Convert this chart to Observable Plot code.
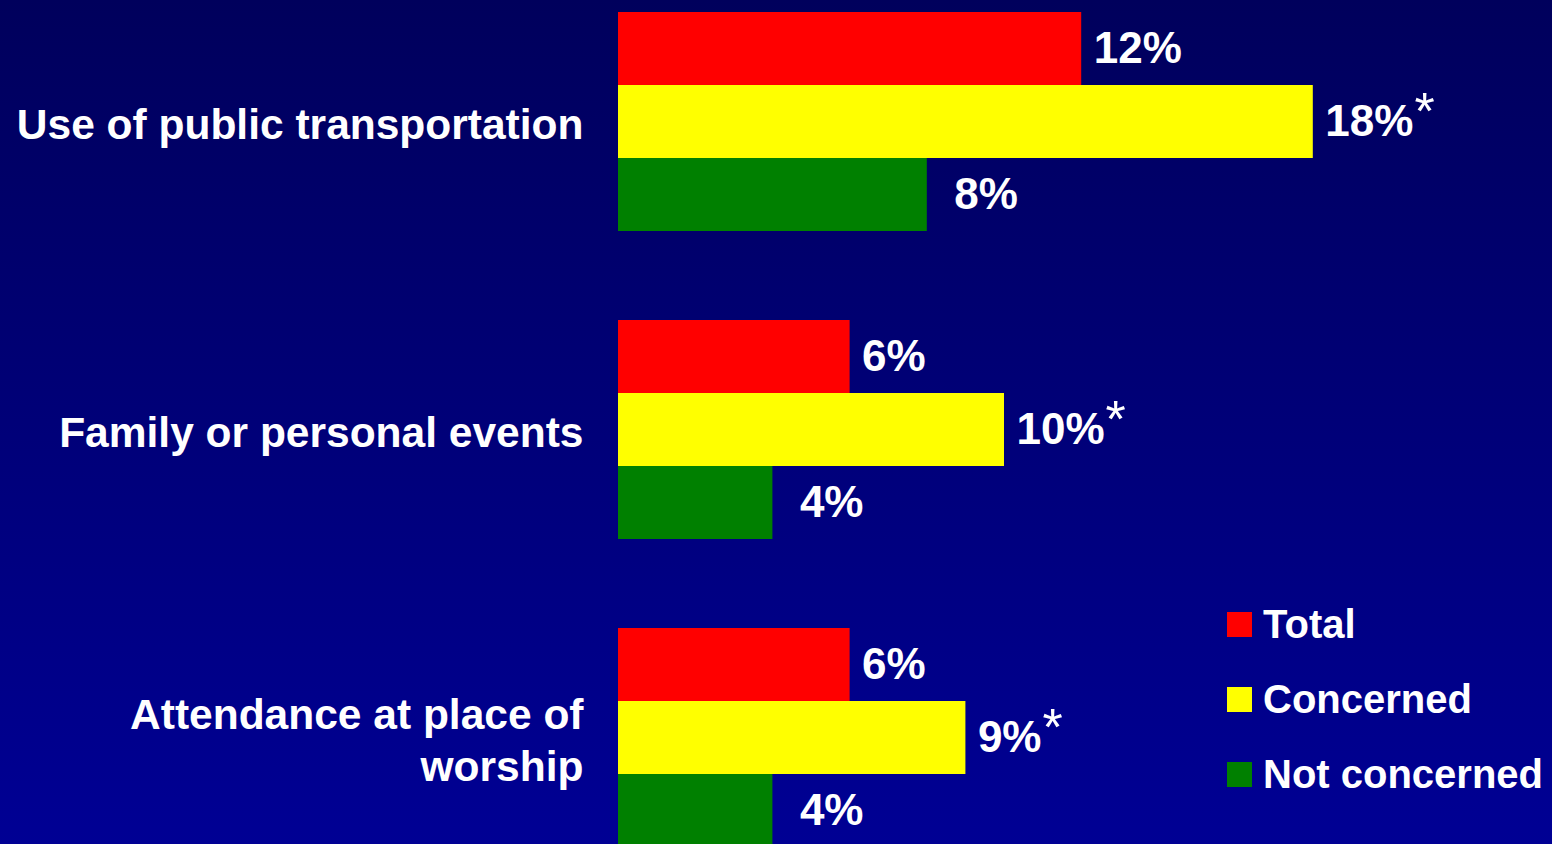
<!DOCTYPE html>
<html>
<head>
<meta charset="utf-8">
<script src="https://cdn.jsdelivr.net/npm/d3@7"></script>
<script src="https://cdn.jsdelivr.net/npm/@observablehq/plot@0.6"></script>
<style>
  html, body { margin: 0; padding: 0; width: 1552px; height: 844px; overflow: hidden; }
  body { background: linear-gradient(to bottom, #00005c 0%, #000094 100%); font-family: "Liberation Sans", Arial, sans-serif; position: relative; }
  #chart { position: absolute; left: 0; top: 0; }
  #legend { position: absolute; left: 1227px; top: 612px; }
  .row { display: flex; align-items: center; height: 25px; margin-bottom: 50px; }
  .sw { width: 25px; height: 25px; margin-right: 11px; flex: none; }
  .lab { color: white; font-weight: bold; font-size: 40px; line-height: 25px; white-space: nowrap; }
</style>
</head>
<body>
<div id="chart"></div>
<div id="legend"></div>
<script>
const categories = ["Use of public transportation", "Family or personal events", "Attendance at place of worship"];
const categoryLabels = ["Use of public transportation", "Family or personal events", "Attendance at place of\nworship"];
const series = ["Total", "Concerned", "Not concerned"];
const total = [12, 6, 6];
const concerned = [18, 10, 9];
const notConcerned = [8, 4, 4];
const significant = [true, true, true];
const colors = ["#ff0000", "#ffff00", "#008000"];

const seriesValues = [total, concerned, notConcerned];
const data = [];
categories.forEach((c, i) => {
  series.forEach((s, j) => {
    data.push({category: c, series: s, value: seriesValues[j][i], star: j === 1 && significant[i]});
  });
});
const labelOf = Object.fromEntries(categories.map((c, i) => [c, categoryLabels[i]]));

const font = "'Liberation Sans', Arial, sans-serif";
const totalData = data.filter(d => d.series === "Total");
const concernedData = data.filter(d => d.series === "Concerned");
const notData = data.filter(d => d.series === "Not concerned");

const chart = Plot.plot({
  width: 1552,
  height: 860,
  marginLeft: 618,
  marginRight: 7.6,
  marginTop: 10,
  marginBottom: 12,
  style: {background: "transparent", color: "white", fontFamily: font},
  x: {domain: [0, 24], axis: null},
  y: {domain: series, padding: 0, axis: null},
  fy: {domain: categories, paddingInner: 0.284, paddingOuter: 0, axis: null},
  color: {domain: series, range: colors},
  marks: [
    Plot.barX(data, {x: "value", y: "series", fy: "category", fill: "series"}),
    Plot.text(totalData, {
      x: "value", y: "series", fy: "category", text: d => d.value + "%",
      textAnchor: "start", dx: 12, fill: "white", fontSize: 44, fontWeight: "bold"
    }),
    Plot.text(concernedData, {
      x: "value", y: "series", fy: "category", text: d => d.value + "%",
      textAnchor: "start", dx: 12, fill: "white", fontSize: 44, fontWeight: "bold"
    }),
    Plot.text(notData, {
      x: "value", y: "series", fy: "category", text: d => d.value + "%",
      textAnchor: "start", dx: 27, fill: "white", fontSize: 44, fontWeight: "bold"
    }),
    Plot.axisFy({
      anchor: "left", tickSize: 0, tickPadding: 35, label: null,
      tickFormat: d => labelOf[d], fontSize: 42.5, fontWeight: "bold", fill: "white", lineHeight: 1.24
    })
  ]
});
document.getElementById("chart").appendChild(chart);

// superscript asterisks on the "Concerned" labels (second text mark)
const textGroups = d3.select(chart).selectAll('g[aria-label="text"]').nodes();
if (textGroups[1]) {
  d3.select(textGroups[1]).selectAll("text").each(function() {
    const txt = this.textContent;
    const d = concernedData.find(e => e.value + "%" === txt);
    if (d && d.star) {
      d3.select(this).append("tspan").attr("dx", 1).attr("dy", -7)
        .attr("font-size", 52).attr("font-weight", "normal").text("*");
    }
  });
}

// legend
const legend = d3.select("#legend");
series.forEach((s, j) => {
  const row = legend.append("div").attr("class", "row");
  row.append("div").attr("class", "sw").style("background", colors[j]);
  row.append("div").attr("class", "lab").text(s);
});
</script>
</body>
</html>
